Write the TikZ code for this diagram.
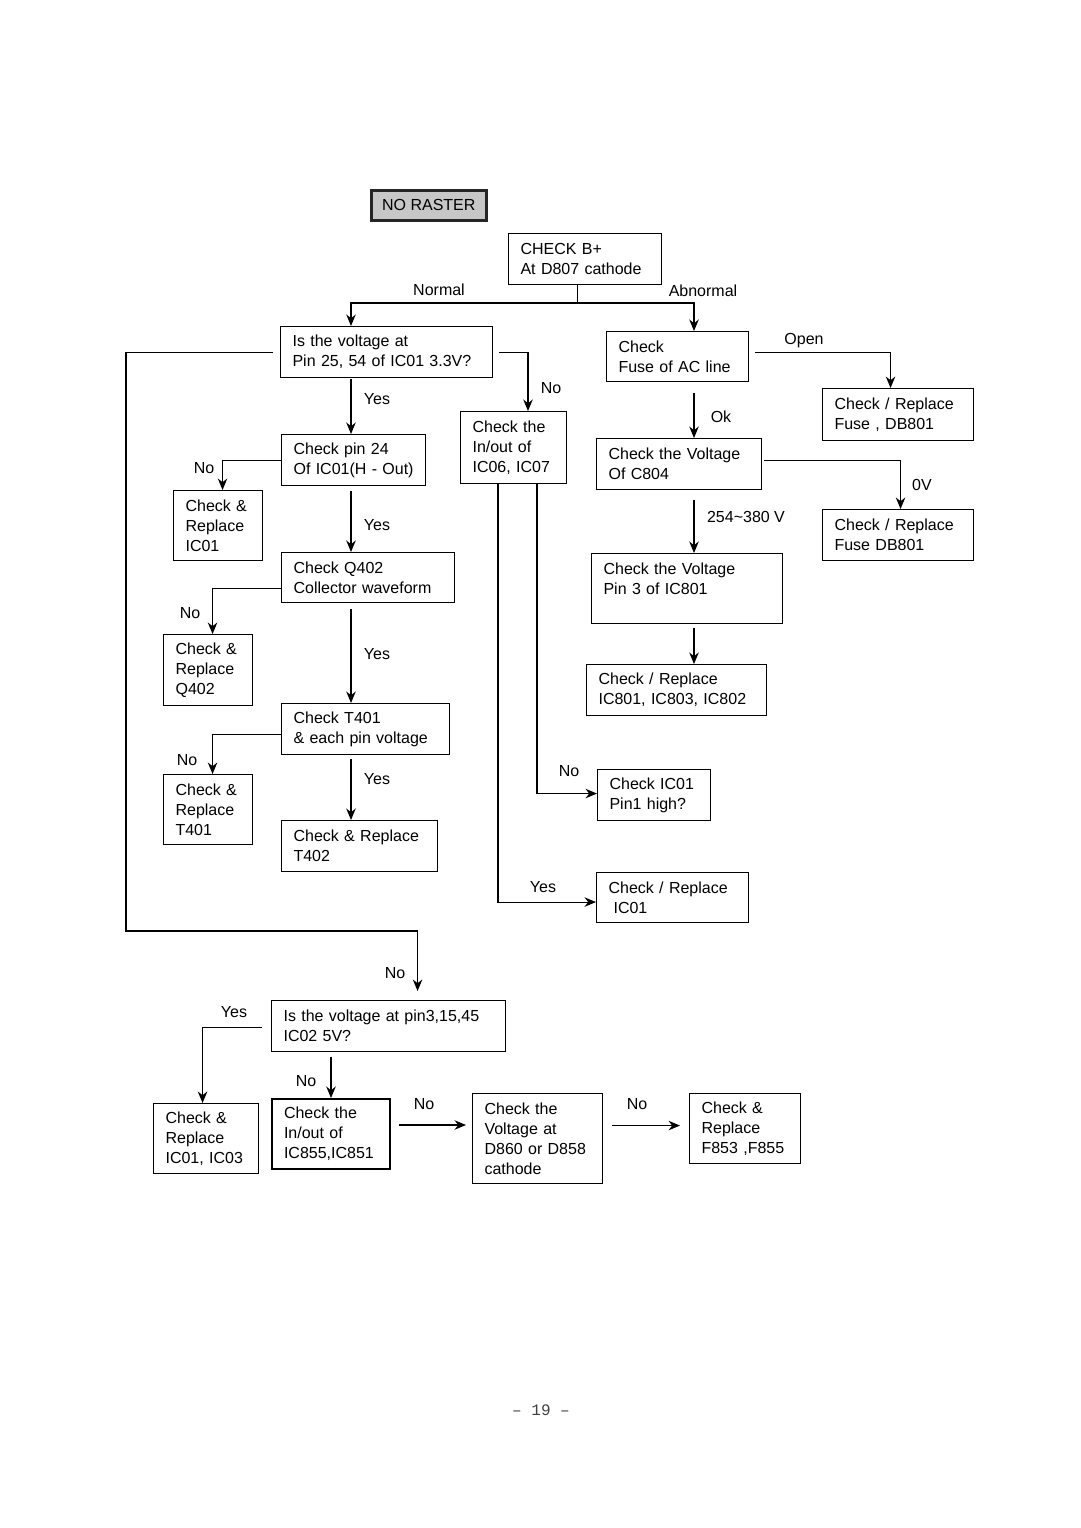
\documentclass[tikz,border=0pt]{standalone}
\usepackage{fontspec}
\setmainfont{Liberation Sans}
\newfontfamily\pagemono{Liberation Mono}
\usetikzlibrary{arrows.meta,calc}
\begin{document}
\begin{tikzpicture}[x=1pt,y=-1pt,
  box/.style={draw, line width=1.1pt, inner xsep=12pt, inner ysep=0pt, align=left,
    anchor=north west, font=\fontsize{16}{20}\selectfont},
  lbl/.style={inner sep=0pt, text height=11.5pt, text depth=0pt, font=\fontsize{16}{20}\selectfont},
  arr/.style={line width=1.1pt, -{Stealth[length=11.5pt,width=9.5pt]}},
  ln/.style={line width=1.1pt}]
\useasboundingbox (0,0) rectangle (1080,1528);

% column coordinates
\coordinate (colA) at (351,0);
\coordinate (colF) at (694,0);
\coordinate (colN) at (528,0);
\coordinate (colL) at (126,0);
\coordinate (colX) at (537,0);
\coordinate (colY) at (498,0);
\coordinate (rowB) at (0,303);
\coordinate (rowLoop) at (0,931);

% nodes
\node[draw, fill=black!22, draw=black!85, line width=2.6pt, inner sep=0pt, anchor=north west,
  font=\fontsize{16}{20}\selectfont,
  minimum width=115pt, minimum height=30pt] (nr) at (370,189) {NO RASTER};
\node[box, minimum height=51pt, text width=129pt] (cb) at (508,233) {CHECK B+\\At D807 cathode};
\node[box, minimum height=51pt, text width=188pt] (q1) at (280,326) {Is the voltage at\\Pin 25, 54 of IC01 3.3V?};
\node[box, minimum height=51pt, text width=120pt] (p24) at (281,434) {\mbox{Check pin 24}\\\mbox{Of IC01(H - Out)}};
\node[box, minimum height=70pt, text width=65pt] (r1) at (173,490) {Check \&\\Replace\\IC01};
\node[box, minimum height=50pt, text width=149pt] (q402) at (281,552) {Check Q402\\Collector waveform};
\node[box, minimum height=71pt, text width=65pt] (r2) at (163,634) {Check \&\\Replace\\Q402};
\node[box, minimum height=51pt, text width=144pt] (t401) at (281,703) {Check T401\\\& each pin voltage};
\node[box, minimum height=70pt, text width=65pt] (r3) at (163,774) {Check \&\\Replace\\T401};
\node[box, minimum height=51pt, text width=132pt] (t402) at (281,820) {Check \& Replace\\T402};
\node[box, minimum height=72pt, text width=82pt] (ic06) at (460,411) {Check the\\In/out of\\IC06, IC07};
\node[box, minimum height=51pt, text width=89pt] (pin1) at (597,769) {Check IC01\\Pin1 high?};
\node[box, minimum height=50pt, text width=128pt] (rc01) at (596,872) {Check / Replace\\\hspace*{5pt}IC01};
\node[box, minimum height=50pt, text width=118pt] (fuse) at (606,331) {Check\\Fuse of AC line};
\node[box, minimum height=52pt, text width=127pt] (fdb1) at (822,388) {Check / Replace\\Fuse , DB801};
\node[box, minimum height=51pt, text width=141pt] (c804) at (596,438) {Check the Voltage\\Of C804};
\node[box, minimum height=51pt, text width=127pt] (fdb2) at (822,509) {Check / Replace\\Fuse DB801};
\node[box, minimum height=70pt, text width=167pt] (p3) at (591,553) {Check the Voltage\\Pin 3 of IC801\\\mbox{}};
\node[box, minimum height=51pt, text width=156pt] (ic801) at (586,664) {Check / Replace\\IC801, IC803, IC802};
\node[box, minimum height=51pt, text width=210pt] (q5) at (271,1000) {Is the voltage at pin3,15,45\\IC02 5V?};
\node[box, minimum height=70pt, text width=81pt] (r4) at (153,1103) {Check \&\\Replace\\IC01, IC03};
\node[box, line width=2pt, minimum height=70pt, text width=94pt] (ic855) at (271,1098) {Check the\\In/out of\\IC855,IC851};
\node[box, minimum height=90pt, text width=106pt] (d860) at (472,1093) {Check the\\Voltage at\\D860 or D858\\cathode};
\node[box, minimum height=70pt, text width=87pt] (f853) at (689,1093) {Check \&\\Replace\\F853 ,F855};

% connectors
\draw[ln] ([xshift=-7.5pt]cb.south) -- ([xshift=-7.5pt]cb.south |- rowB);
\draw[arr] ([xshift=-7.5pt]cb.south |- rowB) -| (q1.north -| colA);
\draw[arr] ([xshift=-7.5pt]cb.south |- rowB) -| (fuse.north -| colF);

\draw[arr] ([xshift=-7pt]q1.west) -| (colL |- rowLoop) -| ([xshift=29pt,yshift=9pt]q5.north);
\draw[arr] ([xshift=6pt]q1.east) -| (ic06.north -| colN);
\draw[arr, shorten <=1pt] (q1.south -| colA) -- (p24.north -| colA);

\draw[arr] (p24.west) -| ([xshift=4.5pt]r1.north);
\draw[arr, shorten <=5pt] (p24.south -| colA) -- (q402.north -| colA);

\draw[arr] ([yshift=-11pt]q402.west) -| ([xshift=4.5pt]r2.north);
\draw[arr, shorten <=6pt] (q402.south -| colA) -- (t401.north -| colA);

\draw[arr] ([yshift=-5.5pt]t401.west) -| ([xshift=4.5pt]r3.north);
\draw[arr, shorten <=4pt] (t401.south -| colA) -- (t402.north -| colA);

\draw[arr] (ic06.south -| colX) |- ([yshift=1.5pt]pin1.west);
\draw[arr] (ic06.south -| colY) |- ([yshift=-4.5pt]rc01.west);

\draw[arr] ([xshift=6pt,yshift=4pt]fuse.east) -| ([xshift=-7.5pt]fdb1.north);
\draw[arr, shorten <=11pt] (fuse.south -| colF) -- (c804.north -| colF);
\draw[arr] ([xshift=2pt,yshift=3.5pt]c804.east) -| ([xshift=2.5pt]fdb2.north);
\draw[arr, shorten <=10pt] (c804.south -| colF) -- (p3.north -| colF);
\draw[arr, shorten <=4pt] (p3.south -| colF) -- (ic801.north -| colF);

\draw[arr] ([xshift=-9pt,yshift=-1.5pt]q5.west) -| ([xshift=-3.5pt]r4.north);
\draw[arr, shorten <=5pt] (q5.south -| ic855.north) -- (ic855.north);
\draw[arr] ($(ic855.east)+(8,-9)$) -- ($(d860.west |- ic855.east)+(-6,-9)$);
\draw[arr] ($(d860.east)+(9,-13)$) -- ($(f853.west |- d860.east)+(-9,-13)$);

% labels
\node[lbl] (lNormal) at (439,290) {Normal};
\node[lbl] (lAbn) at (703,291) {Abnormal};
\node[lbl] (lNo1) at (551,388) {No};
\node[lbl] (lYes1) at (377,399) {Yes};
\node[lbl] (lNo2) at (204,468) {No};
\node[lbl] (lYes2) at (377,525) {Yes};
\node[lbl] (lNo3) at (190,613) {No};
\node[lbl] (lYes3) at (377,654) {Yes};
\node[lbl] (lNo4) at (187,760) {No};
\node[lbl] (lYes4) at (377,779) {Yes};
\node[lbl] (lNo5) at (569,771) {No};
\node[lbl] (lYes5) at (543,887) {Yes};
\node[lbl] (lOpen) at (804,339) {Open};
\node[lbl] (lOk) at (721,417) {Ok};
\node[lbl] (l0V) at (922,485) {0V};
\node[lbl] (lV) at (746,517) {254\textasciitilde380 V};
\node[lbl] (lNo6) at (395,973) {No};
\node[lbl] (lYes6) at (234,1012) {Yes};
\node[lbl] (lNo7) at (306,1081) {No};
\node[lbl] (lNo8) at (424,1104) {No};
\node[lbl] (lNo9) at (637,1104) {No};

\node[lbl, text=black!75, font=\pagemono\fontsize{16}{20}\selectfont] (pg) at (541,1410) {– 19 –};
\end{tikzpicture}
\end{document}
